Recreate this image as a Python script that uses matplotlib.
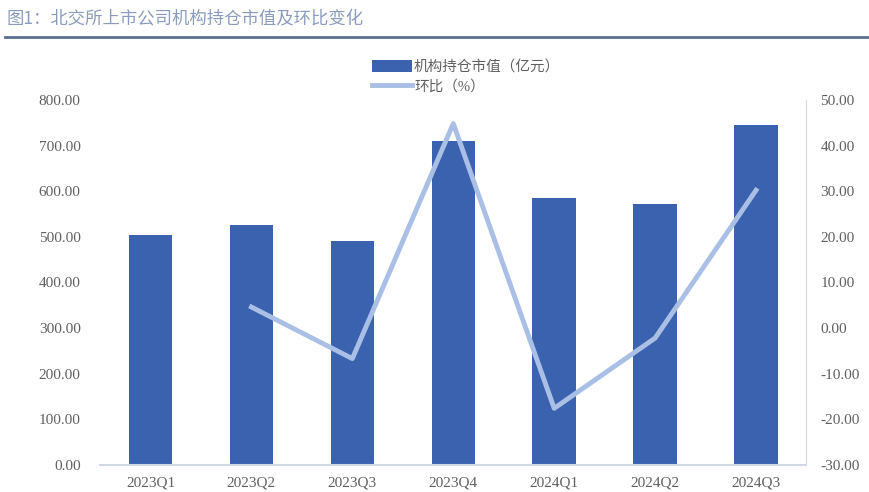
import matplotlib.pyplot as plt
from matplotlib.lines import Line2D
from matplotlib.patches import Patch

plt.rcParams['font.family'] = ['Liberation Serif', 'Noto Sans CJK SC', 'DejaVu Sans']
plt.rcParams['axes.unicode_minus'] = False

# データ
quarters = ['2023Q1', '2023Q2', '2023Q3', '2023Q4', '2024Q1', '2024Q2', '2024Q3']
market_value = [504, 526, 491, 710, 585, 572, 745]
qoq = [None, 4.6, -6.7, 44.8, -17.6, -2.2, 30.2]
left_ticks = [0, 100, 200, 300, 400, 500, 600, 700, 800]
right_ticks = [-30, -20, -10, 0, 10, 20, 30, 40, 50]

bar_color = '#3a62ae'
line_color = '#a9bfe6'
text_color = '#606060'

fig = plt.figure(figsize=(8.7, 4.92), dpi=100)
ax = fig.add_axes([0.115, 0.055, 0.812, 0.742])
x = list(range(len(quarters)))

ax.bar(x, market_value, width=0.43, color=bar_color, zorder=2)
ax.set_xlim(-0.5, len(quarters) - 0.5)
ax.set_ylim(0, 800)
ax.set_yticks(left_ticks)
ax.set_yticklabels([f'{v:.2f}' for v in left_ticks], fontsize=11, color=text_color)
ax.set_xticks(x)
ax.set_xticklabels(quarters, fontsize=11, color=text_color)
ax.tick_params(length=0, pad=8)
ax.tick_params(axis='y', pad=14)
for s in ['top', 'left', 'right']:
    ax.spines[s].set_visible(False)
ax.spines['bottom'].set_color('#d0d8e8')
ax.spines['bottom'].set_linewidth(1.5)
ax.spines['bottom'].set_zorder(3)

ax2 = ax.twinx()
xs = [i for i, v in zip(x, qoq) if v is not None]
ys = [v for v in qoq if v is not None]
ax2.plot(xs, ys, color=line_color, linewidth=3.5, zorder=3)
ax2.set_ylim(-30, 50)
ax2.set_yticks(right_ticks)
ax2.set_yticklabels([f'{v:.2f}' for v in right_ticks], fontsize=11, color=text_color)
ax2.tick_params(length=0, pad=10)
for s in ['top', 'left', 'bottom']:
    ax2.spines[s].set_visible(False)
ax2.spines['right'].set_color('#d9d9d9')

# 凡例
handles = [Patch(facecolor=bar_color, edgecolor='none'),
           Line2D([0], [0], color=line_color, linewidth=3.5)]
labels = ['机构持仓市值（亿元）', '环比（%）']
fig.legend(handles, labels, loc='upper left', bbox_to_anchor=(0.413, 0.905),
           frameon=False, fontsize=10.5, handlelength=2.7, handleheight=0.9,
           handletextpad=0.15, labelspacing=0.4, labelcolor=text_color)

# タイトル
fig.text(0.008, 0.962, '图1：北交所上市公司机构持仓市值及环比变化', fontsize=12.5,
         color='#8a9bbd', va='center', ha='left', family=['Noto Sans CJK SC'])
fig.add_artist(Line2D([0.006, 1.0], [0.925, 0.925], color='#5b6f92', linewidth=2,
                      transform=fig.transFigure))

fig.savefig('out.png', dpi=100)
